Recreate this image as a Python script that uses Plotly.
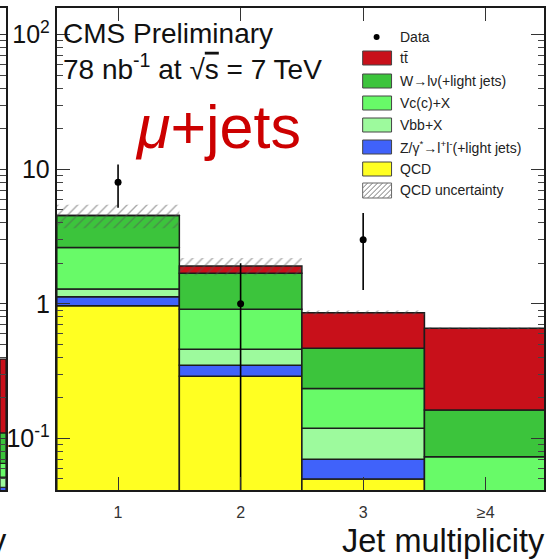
import plotly.graph_objects as go

# ---------------- data ----------------
bins = [1, 2, 3, 4]
bin_labels = ["1", "2", "3", "≥4"]

# stacked expectations per jet-multiplicity bin (bottom to top)
qcd = [0.97, 0.29, 0.050, 0.010]
zll = [0.16, 0.06, 0.020, 0.005]
vbb = [0.16, 0.11, 0.049, 0.020]
vcc = [1.33, 0.45, 0.116, 0.038]
wlnu = [1.91, 0.78, 0.232, 0.090]
ttbar = [0.01, 0.22, 0.392, 0.495]
qcd_unc = [0.90, 0.28, 0.035, 0.012]

data = [8, 1, 3, 0]
data_err = [2.83, 1.0, 1.73, 0.0]

# last bin of the neighbouring (e+jets) panel, visible at the left edge
nb_bin = [0.5]
nb_qcd = [0.030]
nb_zll = [0.0134]
nb_vbb = [0.0082]
nb_vcc = [0.0137]
nb_wlnu = [0.0447]
nb_ttbar = [0.279]

y_major = [0.1, 1, 10, 100]
y_major_text = ["10<sup>-1</sup>", "1", "10", "10<sup>2</sup>"]

colors = {
    "ttbar": "#c8101a",
    "wlnu": "#3cc43c",
    "vcc": "#68fa68",
    "vbb": "#9dfa9d",
    "zll": "#4062fa",
    "qcd": "#ffff22",
}
legend_labels = [
    ("ttbar", "tt\u0304"),
    ("wlnu", "W→lν(+light jets)"),
    ("vcc", "Vc(c)+X"),
    ("vbb", "Vbb+X"),
    ("zll", "Z/γ<sup>*</sup>→l<sup>+</sup>l<sup>-</sup>(+light jets)"),
    ("qcd", "QCD"),
]

FONT = "Liberation Sans, Arial, Helvetica, sans-serif"
W, H = 546, 560
TOP, BOTTOM = 8, 490
YRANGE = [-1.383, 2.198]


def px(x):
    return x / W


def py(y):
    return (BOTTOM - y) / (BOTTOM - TOP)


fig = go.Figure()

# ---------------- main stacked histogram ----------------
stack = [("qcd", qcd), ("zll", zll), ("vbb", vbb), ("vcc", vcc), ("wlnu", wlnu), ("ttbar", ttbar)]
running = [0.0] * len(bins)
for key, vals in stack:
    base = None if key == "qcd" else list(running)
    fig.add_trace(go.Bar(
        x=bins, y=vals, base=base, width=1,
        marker=dict(color=colors[key], line=dict(color="#1c1c1c", width=1.5)),
        showlegend=False, xaxis="x", yaxis="y",
    ))
    running = [r + v for r, v in zip(running, vals)]

total = running
fig.add_trace(go.Bar(
    x=bins, y=[2 * u for u in qcd_unc], base=[t - u for t, u in zip(total, qcd_unc)], width=1,
    marker=dict(color="rgba(0,0,0,0)", line=dict(width=0),
                pattern=dict(shape="/", fgcolor="#555555", bgcolor="rgba(0,0,0,0)", size=7, solidity=0.2)),
    showlegend=False, xaxis="x", yaxis="y",
))

fig.add_trace(go.Scatter(
    x=bins, y=data, mode="markers",
    marker=dict(color="black", size=7),
    error_y=dict(type="data", array=data_err, arrayminus=data_err, width=0, thickness=1.6, color="black"),
    showlegend=False, xaxis="x", yaxis="y",
))

# ---------------- neighbouring panel sliver ----------------
nb_stack = [("qcd", nb_qcd), ("zll", nb_zll), ("vbb", nb_vbb), ("vcc", nb_vcc), ("wlnu", nb_wlnu), ("ttbar", nb_ttbar)]
nb_running = [0.0]
for key, vals in nb_stack:
    base = None if key == "qcd" else list(nb_running)
    fig.add_trace(go.Bar(
        x=nb_bin, y=vals, base=base, width=1,
        marker=dict(color=colors[key], line=dict(color="#1c1c1c", width=1.2)),
        showlegend=False, xaxis="x2", yaxis="y2",
    ))
    nb_running = [r + v for r, v in zip(nb_running, vals)]

minor_vals = [m * 10 ** k for k in range(-2, 3) for m in range(2, 10)]

axis_common = dict(showline=True, linecolor="#1a1a1a", linewidth=2)

fig.update_layout(
    width=W, height=H,
    margin=dict(l=0, r=0, t=TOP, b=H - BOTTOM),
    paper_bgcolor="white", plot_bgcolor="white",
    barmode="overlay",
    showlegend=False,
    font=dict(family=FONT, color="#111"),
    xaxis=dict(
        domain=[57 / W, 1], range=[0.5, 0.5 + 489 / 123], anchor="y",
        tickvals=bins, ticktext=bin_labels, ticks="inside", ticklen=13, tickwidth=1.2,
        tickcolor="#333", mirror="ticks", tickfont=dict(size=16, color="#333"),
        ticklabelstandoff=7, showgrid=False, zeroline=False, **axis_common,
    ),
    yaxis=dict(
        type="log", range=YRANGE, anchor="x", domain=[0, 1],
        tickvals=y_major, ticktext=y_major_text, ticks="inside", ticklen=13, tickwidth=1.2,
        tickcolor="#333", mirror="allticks", tickfont=dict(size=25, color="#111"),
        minor=dict(tickvals=minor_vals, ticks="inside", ticklen=6, tickwidth=1.2, tickcolor="#444"),
        showgrid=False, zeroline=False, **axis_common,
    ),
    xaxis2=dict(
        domain=[0, 6 / W], range=[0, 1], anchor="y2", showticklabels=False, ticks="",
        mirror=True, showgrid=False, zeroline=False, **axis_common,
    ),
    yaxis2=dict(
        type="log", range=YRANGE, anchor="x2", side="right", domain=[0, 1],
        tickvals=y_major, showticklabels=False, ticks="inside", ticklen=13, tickwidth=1.2, tickcolor="#333",
        minor=dict(tickvals=minor_vals, ticks="inside", ticklen=6, tickwidth=1.2, tickcolor="#444"),
        showgrid=False, zeroline=False, **axis_common,
    ),
)

# ---------------- texts ----------------
ann = []
ann.append(dict(text="CMS Preliminary", x=px(61), y=py(33), xanchor="left", yanchor="middle",
                font=dict(size=28, color="#111")))
ann.append(dict(text="78 nb<sup>-1</sup> at √<span style='text-decoration:overline'>s</span> = 7 TeV",
                x=px(61), y=py(67), xanchor="left", yanchor="middle", font=dict(size=28, color="#111")))
ann.append(dict(text="<i>μ</i>+jets", x=px(133), y=py(127), xanchor="left", yanchor="middle",
                font=dict(size=61, color="#cc0000")))
ann.append(dict(text="Jet multiplicity", x=px(549), y=py(541), xanchor="right", yanchor="middle",
                font=dict(size=32.5, color="#111")))
ann.append(dict(text="y", x=px(9), y=py(541), xanchor="right", yanchor="middle",
                font=dict(size=32.5, color="#111")))

# ---------------- legend ----------------
shapes = []
LX0, LX1, TX = 364, 393, 399
ann.append(dict(text="Data", x=px(TX), y=py(37), xanchor="left", yanchor="middle",
                font=dict(size=14, color="#222")))
shapes.append(dict(type="circle", xref="paper", yref="paper", x0=px(375), x1=px(381), y0=py(34), y1=py(40),
                   fillcolor="black", line=dict(width=0)))
row_centers = [58, 81, 103, 125, 147, 169]
for (key, label), yc in zip(legend_labels, row_centers):
    shapes.append(dict(type="rect", xref="paper", yref="paper", x0=px(LX0), x1=px(LX1),
                       y0=py(yc + 7), y1=py(yc - 7), fillcolor=colors[key],
                       line=dict(color="#444", width=1)))
    ann.append(dict(text=label, x=px(TX), y=py(yc), xanchor="left", yanchor="middle",
                    font=dict(size=14, color="#222")))

# hatched swatch for the QCD uncertainty
hy0, hy1 = 183, 198
shapes.append(dict(type="rect", xref="paper", yref="paper", x0=px(LX0), x1=px(LX1),
                   y0=py(hy1), y1=py(hy0), fillcolor="white", line=dict(color="#666", width=1)))
h = hy1 - hy0
segs = []
c = LX0 - h
while c < LX1:
    xs, ys = c, hy1
    xe, ye = c + h, hy0
    if xs < LX0:
        ys = hy1 - (LX0 - xs)
        xs = LX0
    if xe > LX1:
        ye = hy0 + (xe - LX1)
        xe = LX1
    if xe > xs:
        segs.append(f"M{px(xs):.5f},{py(ys):.5f} L{px(xe):.5f},{py(ye):.5f}")
    c += 5
shapes.append(dict(type="path", xref="paper", yref="paper", path=" ".join(segs),
                   line=dict(color="#777", width=1)))
ann.append(dict(text="QCD uncertainty", x=px(TX), y=py(190), xanchor="left", yanchor="middle",
                font=dict(size=14, color="#222")))

for a in ann:
    a.setdefault("xref", "paper")
    a.setdefault("yref", "paper")
    a["showarrow"] = False

fig.update_layout(annotations=ann, shapes=shapes)

fig.write_html("out.html")
